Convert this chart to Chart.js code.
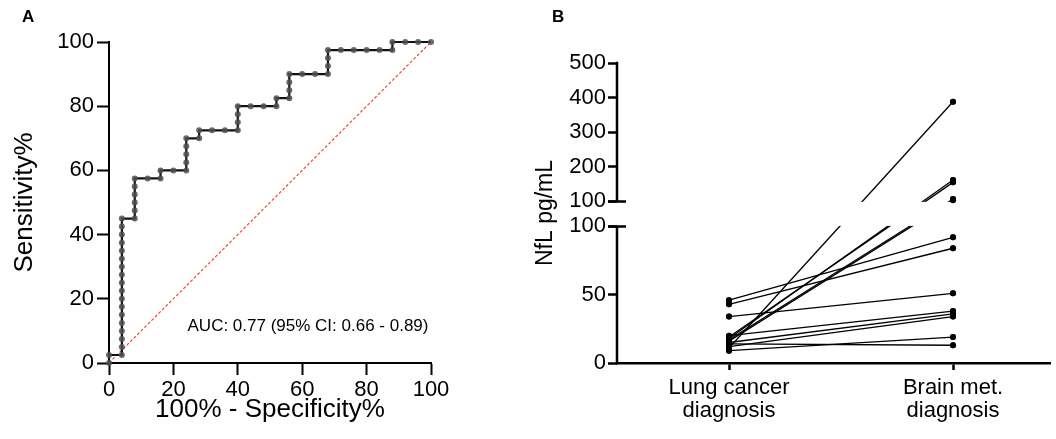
<!DOCTYPE html>
<html><head><meta charset="utf-8">
<script src="https://cdn.jsdelivr.net/npm/chart.js@4.4.0/dist/chart.umd.min.js"></script>
<style>
html,body{margin:0;padding:0;background:#fff;}
#wrap{position:relative;width:1056px;height:439px;overflow:hidden;background:#fff;}
canvas{position:absolute;top:0;}
#cA{left:0;} #cB{left:528px;}
</style></head><body>
<div id="wrap">
<canvas id="cA" width="528" height="439"></canvas>
<canvas id="cB" width="528" height="439"></canvas>
</div>
<script>
// ---------- Panel A data (ROC) ----------
const rocFpr = [0,0,
  4,4,4,4,4,4,4,4,4,4,4,4,4,4,4,4,4,4,
  8,8,8,8,8,8,
  12,
  16,16,
  20,
  24,24,24,24,24,
  28,28,
  32,36,
  40,40,40,40,
  44,48,
  52,52,
  56,56,56,56,
  60,64,
  68,68,68,68,
  72,76,80,84,
  88,88,
  92,96,100];
const rocSens = [0,2.5,
  2.5,5,7.5,10,12.5,15,17.5,20,22.5,25,27.5,30,32.5,35,37.5,40,42.5,45,
  45,47.5,50,52.5,55,57.5,
  57.5,
  57.5,60,
  60,
  60,62.5,65,67.5,70,
  70,72.5,
  72.5,72.5,
  72.5,75,77.5,80,
  80,80,
  80,82.5,
  82.5,85,87.5,90,
  90,90,
  90,92.5,95,97.5,
  97.5,97.5,97.5,97.5,
  97.5,100,
  100,100,100];
const refX = [0,100];
const refY = [0,100];
const rocTicks = [0,20,40,60,80,100];
const aucText = 'AUC: 0.77 (95% CI: 0.66 - 0.89)';
const aucAt = [61.8, 11.5];

// ---------- Panel B data (NfL) ----------
const groupLabels = [['Lung cancer','diagnosis'],['Brain met.','diagnosis']];
const lungNfl  = [11, 18, 19, 17, 16, 46, 43, 34, 20, 15, 12, 9, 14];
const brainNfl = [388,162,155,107,103, 92, 84, 51, 38, 36, 34, 19, 13];
const nflTickValues = [0,50,100,100,200,300,400,500];
const nflTickLabels = ['0','50','100','100','200','300','400','500'];

// broken axis: lower segment 0-100, gap, upper segment 100-500 (compressed)
const BREAK = 100, GAP = 18.3, UPPER_K = 101.3/400;
function toV(val, upper){ return (val < BREAK || (val === BREAK && !upper)) ? val : BREAK + GAP + (val-BREAK)*UPPER_K; }

Chart.defaults.font.family = "'Liberation Sans', Arial, Helvetica, sans-serif";
Chart.defaults.color = '#000';
Chart.defaults.animation = false;

const FONT = "'Liberation Sans', Arial, Helvetica, sans-serif";

const panelLetter = (letter, x, y) => ({
  id: 'letter'+letter,
  afterDraw(chart){
    const c = chart.ctx; c.save();
    c.font = 'bold 17px ' + FONT; c.fillStyle = '#000';
    c.textBaseline = 'alphabetic'; c.textAlign = 'left';
    c.fillText(letter, x, y); c.restore();
  }
});

const aucPlugin = {
  id: 'auc',
  afterDatasetsDraw(chart){
    const c = chart.ctx, xs = chart.scales.x, ys = chart.scales.y;
    c.save(); c.font = '17px ' + FONT; c.fillStyle = '#000';
    c.textAlign = 'center'; c.textBaseline = 'middle';
    c.fillText(aucText, xs.getPixelForValue(aucAt[0]), ys.getPixelForValue(aucAt[1]));
    c.restore();
  }
};

new Chart(document.getElementById('cA'), {
  type: 'line',
  data: {
    datasets: [
      { data: rocFpr.map((x,i)=>({x, y: rocSens[i]})),
        borderColor: '#111', borderWidth: 2.2, tension: 0,
        pointRadius: 3, pointBackgroundColor: 'rgba(80,80,80,0.85)', pointBorderWidth: 0,
        clip: false },
      { data: refX.map((x,i)=>({x, y: refY[i]})),
        borderColor: '#f03a2e', borderWidth: 1.1, borderDash: [3,2], pointRadius: 0, clip: false }
    ]
  },
  options: {
    responsive: false,
    layout: { padding: { left: 0, right: 97, top: 42, bottom: 0 } },
    plugins: { legend: { display: false }, tooltip: { enabled: false } },
    scales: {
      x: { type: 'linear', min: 0, max: 100,
        afterBuildTicks: s => { s.ticks = rocTicks.map(v=>({value:v})); },
        afterFit: s => { s.height = 76; },
        ticks: { font: { size: 22 }, padding: 2, autoSkip: false, maxRotation: 0 },
        grid: { drawOnChartArea: false, tickLength: 12, tickColor: '#000', tickWidth: 2 },
        border: { display: true, color: '#000', width: 2 },
        title: { display: true, text: '100% - Specificity%', font: { size: 26 }, padding: { bottom: 14 } } },
      y: { type: 'linear', min: 0, max: 100,
        afterBuildTicks: s => { s.ticks = rocTicks.map(v=>({value:v})); },
        afterFit: s => { s.width = 109; },
        ticks: { font: { size: 22 }, padding: 3, autoSkip: false },
        grid: { drawOnChartArea: false, tickLength: 12, tickColor: '#000', tickWidth: 2 },
        border: { display: true, color: '#000', width: 2 },
        title: { display: true, text: 'Sensitivity%', font: { size: 26 }, padding: { top: 9 } } }
    }
  },
  plugins: [aucPlugin, panelLetter('A', 22, 22)]
});

// ---------- Panel B ----------
const breakPlugin = {
  id: 'axisBreak',
  afterDatasetsDraw(chart){
    const c = chart.ctx, ys = chart.scales.y, a = chart.chartArea;
    const yLow = ys.getPixelForValue(toV(BREAK,false));
    const yUp = ys.getPixelForValue(toV(BREAK,true));
    c.save();
    c.fillStyle = '#fff';
    c.fillRect(a.left + 2, yUp + 0.5, a.right - a.left, yLow - yUp - 1);
    c.restore();
    // redraw the points on top of the mask
    chart.getSortedVisibleDatasetMetas().forEach(m => m.data.forEach(p => p.draw(c, a)));
  },
  afterDraw(chart){
    const c = chart.ctx, ys = chart.scales.y, a = chart.chartArea;
    const x0 = a.left;
    const p0 = ys.getPixelForValue(toV(0,false));
    const pLow = ys.getPixelForValue(toV(BREAK,false));
    const pUp = ys.getPixelForValue(toV(BREAK,true));
    const pTop = ys.getPixelForValue(toV(500,true));
    c.save(); c.strokeStyle = '#000'; c.lineWidth = 2.5; c.lineCap = 'butt';
    c.beginPath();
    c.moveTo(x0, p0 + 1.25); c.lineTo(x0, pLow);
    c.moveTo(x0, pUp); c.lineTo(x0, pTop - 1.25);
    c.moveTo(x0 - 9, pLow); c.lineTo(x0 + 9, pLow);
    c.moveTo(x0 - 9, pUp); c.lineTo(x0 + 9, pUp);
    c.stroke(); c.restore();
  }
};

new Chart(document.getElementById('cB'), {
  type: 'line',
  data: {
    datasets: lungNfl.map((v,i)=>({
      data: [{x:0, y: toV(v,false)}, {x:1, y: toV(brainNfl[i], brainNfl[i] >= BREAK)}],
      borderColor: '#000', borderWidth: 1.3, tension: 0,
      pointRadius: 3, pointBackgroundColor: '#000', pointBorderWidth: 0
    }))
  },
  options: {
    responsive: false,
    layout: { padding: { left: 0, right: 6, top: 63, bottom: 0 } },
    plugins: { legend: { display: false }, tooltip: { enabled: false } },
    scales: {
      x: { type: 'linear', min: -0.5, max: 1.433,
        afterBuildTicks: s => { s.ticks = groupLabels.map((_,i)=>({value:i})); },
        afterFit: s => { s.height = 76; },
        ticks: { font: { size: 22, lineHeight: 1.05 }, padding: 6, autoSkip: false, maxRotation: 0,
          callback: (v, i) => groupLabels[i] },
        grid: { drawOnChartArea: false, tickLength: 7, tickColor: '#000', tickWidth: 2.5 },
        border: { display: true, color: '#000', width: 2.5 } },
      y: { type: 'linear', min: 0, max: toV(500,true),
        afterBuildTicks: s => { s.ticks = nflTickValues.map((v,i)=>({value: toV(v, i >= 3)})); },
        afterFit: s => { s.width = 89; },
        ticks: { font: { size: 22 }, padding: 2, autoSkip: false,
          callback: (v, i) => nflTickLabels[i] },
        grid: { drawOnChartArea: false, tickLength: 9, tickColor: '#000', tickWidth: 2.5 },
        border: { display: false },
        title: { display: true, text: 'NfL pg/mL', font: { size: 23 }, padding: { top: 4 } } }
    }
  },
  plugins: [breakPlugin, panelLetter('B', 24, 22)]
});
</script>
</body></html>
